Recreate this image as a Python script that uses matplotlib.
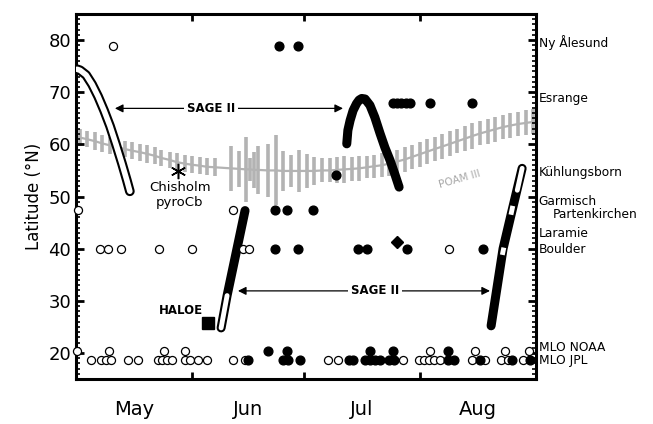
import numpy as np
import matplotlib
matplotlib.use('Agg')
from matplotlib import pyplot as plt
from matplotlib.ticker import MultipleLocator

# x axis: days since 1 May
month_edges = [0, 31, 61, 92, 123]
month_mids = [15.5, 46, 76.5, 107.5]
month_names = ['May', 'Jun', 'Jul', 'Aug']

# POAM III mean latitude and spread
poam_day = [1.1, 2.9, 5.1, 6.9, 9.1, 10.9, 13.1, 14.9, 17.1, 18.9, 21.1, 22.8, 25.1, 26.9,
            29.1, 30.9, 33.2, 35.0, 37.2,
            41.4, 43.6, 45.5, 46.5, 47.6, 48.7, 51.3, 53.5, 55.3, 57.5, 59.6, 61.8, 63.6, 65.8,
            67.9, 69.8, 71.7, 73.8, 75.7, 77.8, 79.7, 81.8,
            83.8, 85.8, 87.9, 89.9, 91.9, 93.9, 95.9, 98.0, 100.0, 102.0, 104.0, 106.0, 108.1,
            110.1, 112.1, 114.1, 116.1, 118.2, 120.2, 122.2]
poam_lat = [61.3, 61.0, 60.6, 60.2, 59.8, 59.5, 59.1, 58.8, 58.5, 58.2, 57.8, 57.4, 57.0, 56.6,
            56.3, 56.1, 55.9, 55.7, 55.6,
            55.4, 55.3, 55.2, 55.2, 55.1, 55.1, 55.0, 55.0, 54.9, 54.9, 54.9, 54.9, 54.9, 55.0,
            55.0, 55.1, 55.2, 55.3, 55.4, 55.6, 55.8, 56.0,
            56.3, 56.7, 57.1, 57.6, 58.1, 58.6, 59.1, 59.6, 60.1, 60.6, 61.1, 61.6, 62.1,
            62.5, 62.9, 63.3, 63.6, 63.9, 64.1, 64.3]
poam_err = [1.6, 1.6, 1.7, 1.6, 1.6, 1.7, 1.6, 1.6, 1.6, 1.7, 1.6, 1.6, 1.6, 1.7,
            1.6, 1.6, 1.6, 1.6, 1.7,
            4.3, 3.4, 6.2, 2.2, 3.4, 4.6, 5.1, 6.7, 3.8, 3.0, 4.1, 3.2, 2.6, 2.3,
            2.3, 2.5, 2.6, 2.3, 2.4, 2.1, 2.2, 2.3,
            2.4, 2.3, 2.4, 2.3, 2.4, 2.4, 2.3, 2.4, 2.4, 2.3, 2.4, 2.4, 2.3,
            2.4, 2.4, 2.3, 2.4, 2.3, 2.4, 2.4]

# SAGE II tracks
may_day = [0.3, 1.1, 2.7, 4.3, 5.9, 7.5, 9.1, 10.7, 12.3, 13.6, 14.4]
may_lat = [74.4, 74.2, 73.3, 71.5, 69.2, 66.5, 63.5, 60.0, 56.3, 53.1, 51.0]
jul_day = [72.4, 72.7, 73.3, 74.1, 75.0, 75.7, 76.4, 77.3, 78.6, 79.9, 81.3, 82.6, 84.0,
           85.3, 86.4]
jul_lat = [60.1, 62.7, 64.6, 66.5, 67.8, 68.5, 68.8, 68.7, 67.5, 65.2, 62.1, 59.4, 56.9,
           54.2, 51.8]
jun_day = [38.8, 40.4, 45.2]
jun_lat = [24.8, 31.0, 47.3]
aug_day = [111.0, 114.2, 116.5, 119.3]
aug_lat = [25.2, 40.0, 47.0, 55.4]
aug_gap_day = [[118.0, 119.3], [116.3, 116.8], [114.0, 114.4]]
aug_gap_lat = [[51.2, 55.4], [46.5, 48.2], [38.8, 40.2]]

# ground stations: open = no signal, filled = detection
open_day = [9.9,
            0.5, 42.0,
            6.4, 8.6, 12.0, 22.2, 31.0, 44.6, 46.3, 99.7,
            0.3, 8.9, 23.6, 29.1, 94.7, 106.7, 114.7, 121.2,
            3.9, 6.7, 8.0, 9.4, 14.0, 16.7, 22.0, 23.0, 24.3, 25.7, 29.1, 30.5, 32.6, 35.0,
            42.1, 45.2, 67.5, 70.1, 87.5, 91.7, 93.0, 94.4, 95.7, 97.3, 106.0, 109.4, 113.6,
            115.6, 119.6]
open_lat = [78.9,
            47.5, 47.5,
            40.0, 40.0, 40.0, 40.0, 40.0, 40.0, 40.0, 40.0,
            20.4, 20.4, 20.4, 20.4, 20.4, 20.4, 20.4, 20.4,
            18.6, 18.6, 18.6, 18.6, 18.6, 18.6, 18.6, 18.6, 18.6, 18.6, 18.6, 18.6, 18.6, 18.6,
            18.6, 18.6, 18.6, 18.6, 18.6, 18.6, 18.6, 18.6, 18.6, 18.6, 18.6, 18.6, 18.6,
            18.6, 18.6]
fill_day = [54.3, 59.4,
            84.8, 85.9, 87.0, 88.2, 89.3, 94.7, 105.9,
            69.5,
            53.2, 56.4, 63.4,
            53.2, 59.4, 75.4, 77.8, 88.5, 108.8,
            51.4, 56.3, 78.6, 84.7, 99.5,
            46.1, 55.4, 56.8, 59.9, 73.0, 74.0, 77.3, 78.6, 79.9, 81.2, 83.7, 85.0, 99.5,
            101.1, 108.0, 116.7, 121.4]
fill_lat = [78.9, 78.9,
            67.9, 67.9, 67.9, 67.9, 67.9, 67.9, 67.9,
            54.1,
            47.5, 47.5, 47.5,
            40.0, 40.0, 40.0, 40.0, 40.0, 40.0,
            20.4, 20.4, 20.4, 20.4, 20.4,
            18.6, 18.6, 18.6, 18.6, 18.6, 18.6, 18.6, 18.6, 18.6, 18.6, 18.6, 18.6, 18.6,
            18.6, 18.6, 18.6, 18.6]
laramie = (85.8, 41.3)
chisholm = (27.2, 54.8)
haloe = (35.4, 25.8)

stations = ['Ny Ålesund', 'Esrange', 'Kühlungsborn', 'Garmisch', 'Partenkirchen',
            'Laramie', 'Boulder', 'MLO NOAA', 'MLO JPL']
station_lat = [79.6, 68.7, 54.6, 49.0, 46.5, 42.9, 39.8, 21.0, 18.5]

plt.rcParams['font.family'] = 'DejaVu Sans'
fig = plt.figure(figsize=(6.53, 4.24), dpi=100)
ax = fig.add_axes([0.1164, 0.1061, 0.7044, 0.8609])

gray = '#b3b3b3'
ax.vlines(poam_day, np.array(poam_lat) - np.array(poam_err),
          np.array(poam_lat) + np.array(poam_err), color=gray, lw=2.6, zorder=1)
ax.plot([0] + poam_day + [123], [61.5] + poam_lat + [64.4], color=gray, lw=1.6, zorder=1)
ax.text(102.7, 53.3, 'POAM III', color='#a8a8a8', fontsize=7.5, rotation=16,
        ha='center', va='center')

# SAGE II tracks
ax.plot(may_day, may_lat, color='black', lw=7, solid_capstyle='round',
        solid_joinstyle='round', zorder=3)
ax.plot(may_day, may_lat, color='white', lw=4, solid_capstyle='round',
        solid_joinstyle='round', zorder=3)
ax.plot(jul_day, jul_lat, color='black', lw=6.5, solid_capstyle='round',
        solid_joinstyle='round', zorder=3)
ax.plot(jun_day, jun_lat, color='black', lw=6.5, solid_capstyle='round', zorder=3)
ax.plot(jun_day[:2], jun_lat[:2], color='white', lw=3.5, solid_capstyle='round', zorder=3)
ax.plot(aug_day, aug_lat, color='black', lw=6.5, solid_capstyle='round',
        solid_joinstyle='round', zorder=3)
for i, (d, l) in enumerate(zip(aug_gap_day, aug_gap_lat)):
    ax.plot(d, l, color='white', lw=3.5, solid_capstyle='round' if i == 0 else 'butt',
            zorder=3)

# SAGE II arrows
ax.annotate('', xy=(10.4, 66.9), xytext=(71.4, 66.9),
            arrowprops=dict(arrowstyle='<|-|>', color='black', lw=0.9,
                            mutation_scale=12, shrinkA=0, shrinkB=0))
ax.text(36.1, 66.9, 'SAGE II', fontsize=8.5, fontweight='bold', ha='center', va='center',
        bbox=dict(facecolor='white', edgecolor='none', pad=2))
ax.annotate('', xy=(43.3, 31.9), xytext=(110.7, 31.9),
            arrowprops=dict(arrowstyle='<|-|>', color='black', lw=0.9,
                            mutation_scale=12, shrinkA=0, shrinkB=0))
ax.text(80.0, 31.9, 'SAGE II', fontsize=8.5, fontweight='bold', ha='center', va='center',
        bbox=dict(facecolor='white', edgecolor='none', pad=2))

# stations
ax.plot(open_day, open_lat, 'o', ms=5.8, mfc='white', mec='black', mew=0.9,
        zorder=4, clip_on=False)
ax.plot(fill_day, fill_lat, 'o', ms=6.3, color='black', zorder=4)
ax.plot(*laramie, 'D', ms=6, color='black', zorder=4)
ax.plot(*chisholm, marker=(6, 2, 0), ms=11, color='black', mew=1.1, zorder=4)
ax.text(chisholm[0] + 0.6, 51.7, 'Chisholm', fontsize=9.5, ha='center', va='center')
ax.text(chisholm[0] + 0.6, 48.8, 'pyroCb', fontsize=9.5, ha='center', va='center')
ax.plot(*haloe, 's', ms=8.5, color='black', zorder=4)
ax.text(28.1, 28.2, 'HALOE', fontsize=8.5, fontweight='bold', ha='center', va='center')

for name, lat in zip(stations, station_lat):
    dx = 12 if name == 'Partenkirchen' else 2
    ax.annotate(name, xy=(1, lat), xycoords=('axes fraction', 'data'),
                xytext=(dx, 0), textcoords='offset points', fontsize=8.8,
                va='center', ha='left', annotation_clip=False)

ax.set_xlim(0, 123)
ax.set_ylim(15, 85)
ax.set_xticks(month_edges)
ax.set_xticklabels([])
ax.set_xticks(month_mids, minor=True)
ax.set_xticklabels(month_names, minor=True, fontsize=14)
ax.tick_params(axis='x', which='minor', length=0, pad=15)
ax.tick_params(axis='x', which='major', direction='in', length=5, width=2,
               top=True, bottom=True)
ax.yaxis.set_major_locator(MultipleLocator(10))
ax.yaxis.set_minor_locator(MultipleLocator(1))
ax.set_yticks(range(20, 90, 10))
ax.tick_params(axis='y', which='major', direction='in', length=6, width=2,
               left=True, right=True, labelsize=13)
ax.tick_params(axis='y', which='minor', direction='in', length=3, width=1.2,
               left=True, right=True)
for s in ax.spines.values():
    s.set_linewidth(2.2)
ax.set_ylabel('Latitude (°N)', fontsize=12, labelpad=4)

fig.savefig('out.png', dpi=100)
